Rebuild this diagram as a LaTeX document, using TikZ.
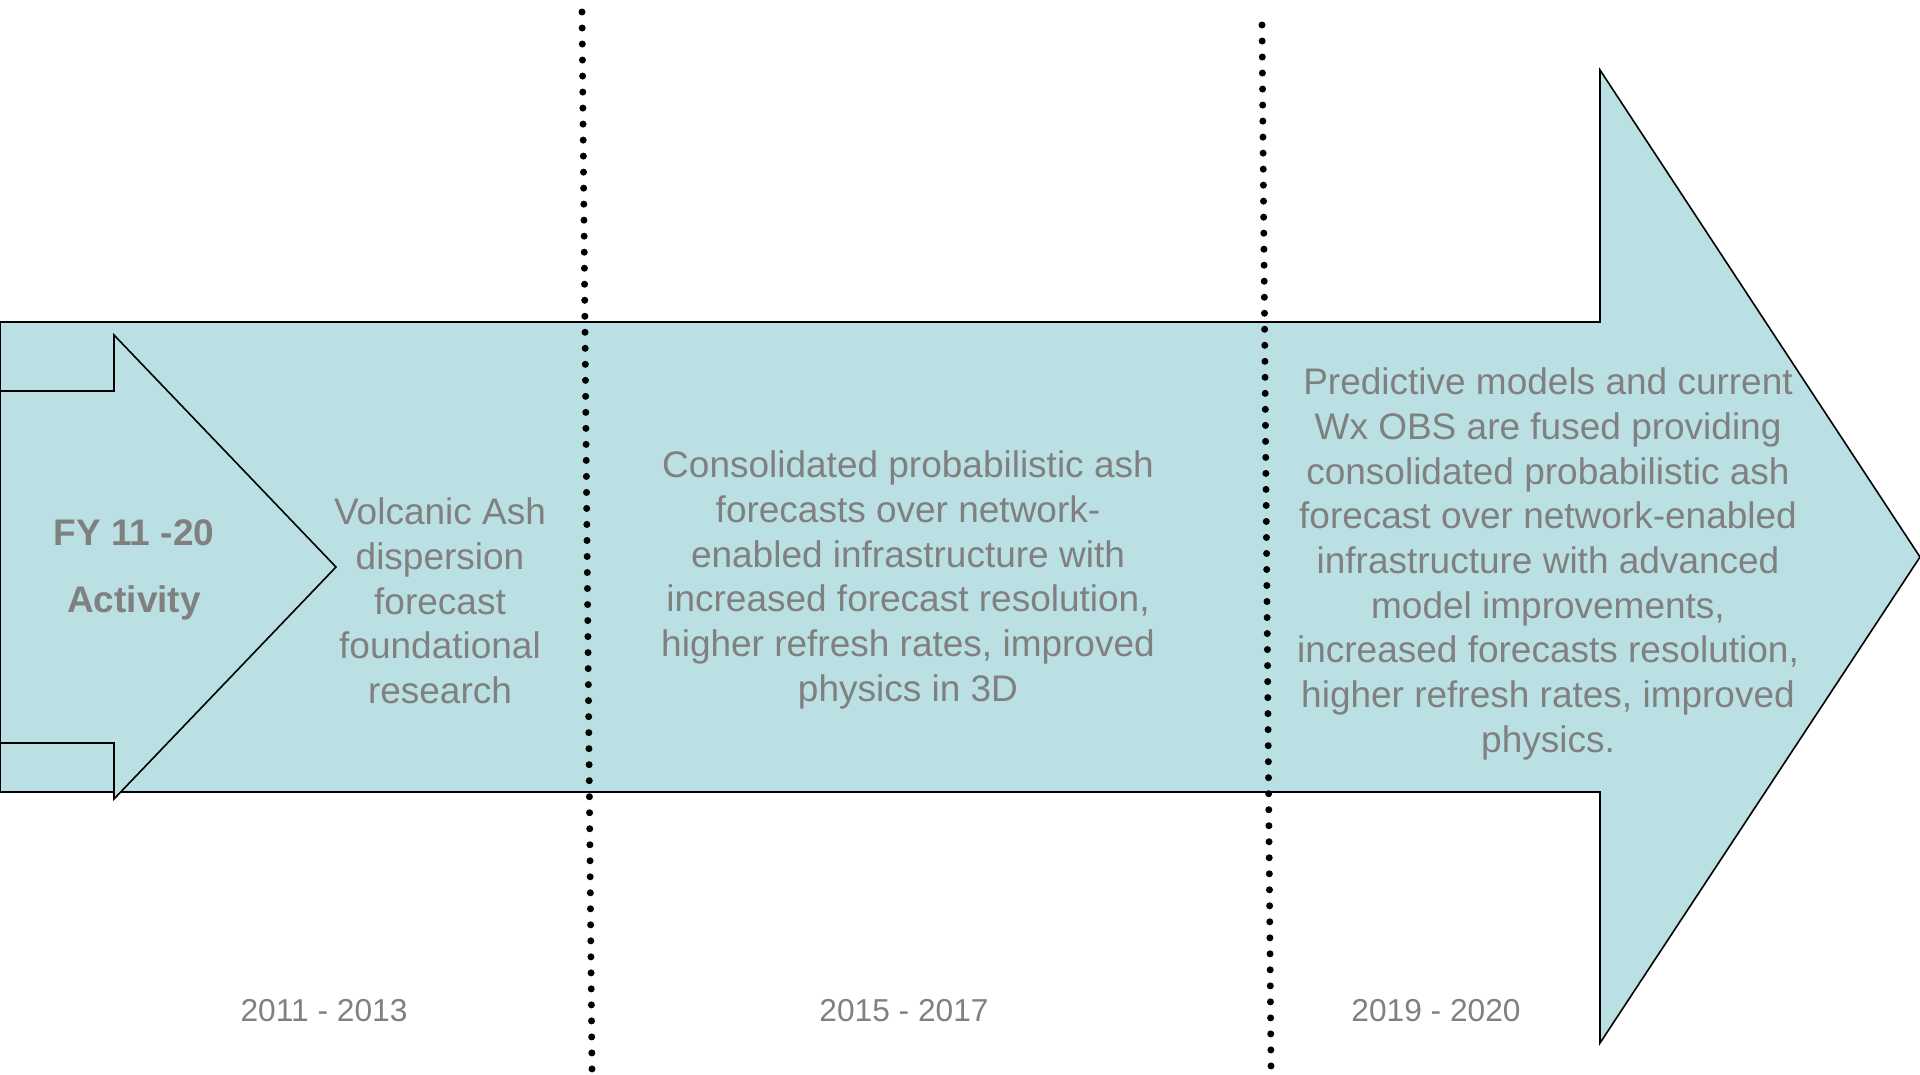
\documentclass[tikz,border=0pt]{standalone}
\usepackage{fontspec}
\setmainfont{Liberation Sans}
\begin{document}
\definecolor{ashfill}{RGB}{186,224,227}
\definecolor{ashtext}{RGB}{128,128,128}
\begin{tikzpicture}[x=1pt,y=-1pt,
  arrowshape/.style={fill=ashfill,draw=black,line width=1.6pt,line join=miter},
  phase/.style={text=ashtext,align=center,inner sep=0pt,
    font=\fontsize{37}{44.7}\selectfont},
  label/.style={text=ashtext,inner sep=0pt,font=\fontsize{31.7}{38}\selectfont},
  divider/.style={line width=7pt,line cap=round,dash pattern=on 0pt off 16.015pt}]
\useasboundingbox (0,0) rectangle (1920,1074);

% main timeline arrow
\draw[arrowshape] (0,322) -- (1600,322) -- (1600,70) -- (1920,557)
  -- (1600,1043) -- (1600,792) -- (0,792) -- cycle;
% activity arrow at the start of the timeline
\draw[arrowshape] (0,391) -- (114,391) -- (114,335) -- (336,567)
  -- (114,799) -- (114,743) -- (0,743) -- cycle;

% activity label
\node[phase,font=\bfseries\fontsize{37}{67}\selectfont] (fy) at (134,570)
  {FY 11 -20\\Activity};

% phase descriptions
\node[phase] (p1) at (440,601)
  {Volcanic Ash\\dispersion\\forecast\\foundational\\research};
\node[phase] (p2) at (908,580)
  {Consolidated probabilistic ash\\forecasts over network-\\enabled infrastructure with\\increased forecast resolution,\\higher refresh rates, improved\\physics in 3D};
\node[phase] (p3) at (1548,564)
  {Predictive models and current\\Wx OBS are fused providing\\consolidated probabilistic ash\\forecast over network-enabled\\infrastructure with advanced\\model improvements,\\increased forecasts resolution,\\higher refresh rates, improved\\physics.};

% period labels
\node[label] (y1) at (324,1011) {2011 - 2013};
\node[label] (y2) at (904,1011) {2015 - 2017};
\node[label] (y3) at (1436,1011) {2019 - 2020};

% period dividers
\coordinate (d1top) at (582,12);
\coordinate (d1bot) at (592,1069);
\coordinate (d2top) at (1262,25);
\coordinate (d2bot) at (1271,1066);
\draw[divider] (d1top) -- (d1bot);
\draw[divider] (d2top) -- (d2bot);
\end{tikzpicture}
\end{document}
